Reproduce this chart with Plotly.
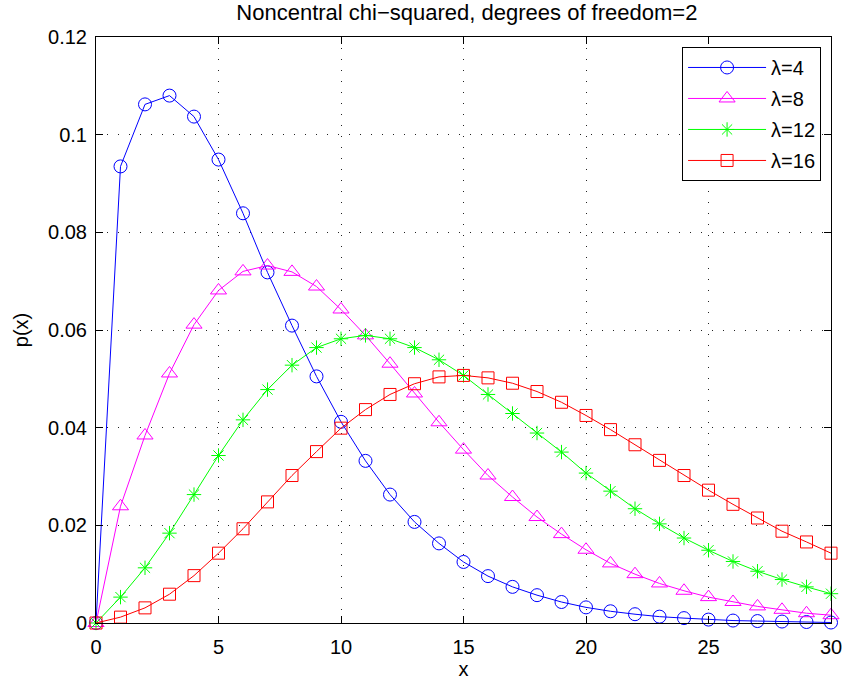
import plotly.graph_objects as go

x = list(range(31))
lam4 = [0, 0.0935, 0.1062, 0.1080, 0.1037, 0.0949, 0.0839, 0.0718, 0.0609, 0.0505,
        0.0412, 0.0332, 0.0263, 0.0207, 0.0163, 0.0125, 0.0096, 0.0074, 0.0057, 0.0043,
        0.0032, 0.0024, 0.0018, 0.0013, 0.0010, 0.0007, 0.0005, 0.0004, 0.0003, 0.0002, 0.0001]
lam8 = [0, 0.0239, 0.0384, 0.0511, 0.0611, 0.0681, 0.0720, 0.0732, 0.0719, 0.0689,
        0.0642, 0.0589, 0.0531, 0.0470, 0.0411, 0.0355, 0.0302, 0.0258, 0.0217, 0.0182,
        0.0150, 0.0122, 0.0100, 0.0081, 0.0066, 0.0053, 0.0043, 0.0034, 0.0027, 0.0020, 0.0016]
lam12 = [0, 0.0053, 0.0113, 0.0184, 0.0263, 0.0343, 0.0416, 0.0478, 0.0528, 0.0564,
         0.0582, 0.0589, 0.0582, 0.0564, 0.0539, 0.0507, 0.0468, 0.0429, 0.0389, 0.0350,
         0.0307, 0.0270, 0.0234, 0.0203, 0.0174, 0.0149, 0.0126, 0.0106, 0.0089, 0.0074, 0.0060]
lam16 = [0, 0.0012, 0.0031, 0.0059, 0.0097, 0.0143, 0.0193, 0.0248, 0.0302, 0.0351,
         0.0399, 0.0437, 0.0468, 0.0490, 0.0504, 0.0507, 0.0502, 0.0491, 0.0474, 0.0452,
         0.0425, 0.0396, 0.0365, 0.0333, 0.0302, 0.0272, 0.0243, 0.0215, 0.0188, 0.0166, 0.0143]

series = [
    ("λ=4", lam4, "#0000FF", "circle-open", 13),
    ("λ=8", lam8, "#FF00FF", "triangle-up-open", 14),
    ("λ=12", lam12, "#00FF00", "asterisk-open", 12),
    ("λ=16", lam16, "#FF0000", "square-open", 12),
]

FONT = "Liberation Sans, Arial, Helvetica, sans-serif"

fig = go.Figure()
for name, ys, color, sym, size in series:
    fig.add_trace(go.Scatter(
        x=x, y=ys, name=name, mode="lines+markers", legendgroup=name,
        cliponaxis=False,
        line=dict(color=color, width=1),
        marker=dict(symbol=sym, size=size, color=color, line=dict(color=color, width=1)),
    ))

axis_common = dict(
    showline=True, linecolor="black", linewidth=1, mirror="ticks",
    ticks="inside", ticklen=7, tickcolor="black",
    showgrid=True, gridcolor="#222222", griddash="1px,10px", gridwidth=1,
    zeroline=False,
    tickfont=dict(family=FONT, size=20, color="black"),
)

fig.update_layout(
    width=854, height=687,
    margin=dict(l=96, r=16, t=37, b=64),
    paper_bgcolor="white", plot_bgcolor="white",
    title=dict(text="Noncentral chi\u2212squared, degrees of freedom=2",
               x=0.5467, xanchor="center", y=0.982, yanchor="middle",
               font=dict(family=FONT, size=22, color="black")),
    xaxis=dict(range=[0, 30], dtick=5, tick0=0, ticklabelstandoff=6,
               title=dict(text="x", font=dict(family=FONT, size=20, color="black"), standoff=2),
               **axis_common),
    yaxis=dict(range=[0, 0.12], dtick=0.02, tick0=0, ticklabelstandoff=4,
               title=dict(text="p(x)", font=dict(family=FONT, size=20, color="black"), standoff=14),
               **axis_common),
    legend=dict(x=0.9865, xanchor="right", y=0.983, yanchor="top",
                bgcolor="white", bordercolor="black", borderwidth=1,
                font=dict(family=FONT, size=20, color="black"),
                itemwidth=78, tracegroupgap=2),
    showlegend=True,
)

fig.write_html("out.html")
